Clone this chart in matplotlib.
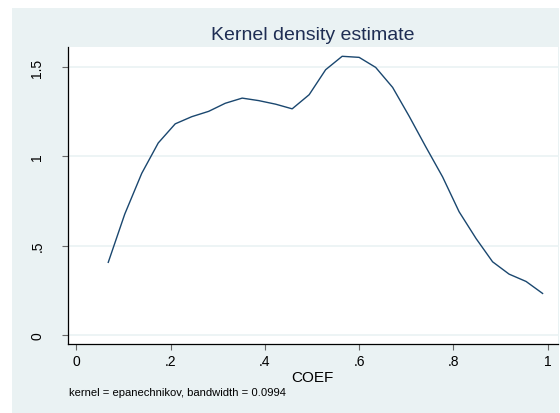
import matplotlib
matplotlib.use("Agg")
import matplotlib.pyplot as plt
from matplotlib.patches import Rectangle
import numpy as np

plt.rcParams['font.family'] = ['Liberation Sans', 'DejaVu Sans']

# kernel density evaluation points and estimates
coef = [0.068, 0.103, 0.139, 0.174, 0.210, 0.245, 0.281, 0.316, 0.352,
        0.387, 0.423, 0.458, 0.494, 0.529, 0.564, 0.600, 0.635, 0.671,
        0.706, 0.741, 0.777, 0.812, 0.848, 0.883, 0.918, 0.954, 0.989]
density = [0.407, 0.677, 0.905, 1.075, 1.182, 1.222, 1.252, 1.297, 1.326,
           1.312, 1.292, 1.266, 1.345, 1.485, 1.560, 1.554, 1.498, 1.386,
           1.225, 1.055, 0.885, 0.690, 0.540, 0.410, 0.341, 0.300, 0.233]

xticks = [0, 0.2, 0.4, 0.6, 0.8, 1.0]
xticklabels = ['0', '.2', '.4', '.6', '.8', '1']
yticks = [0, 0.5, 1.0, 1.5]
yticklabels = ['0', '.5', '1', '1.5']

W, H = 560, 414
fig = plt.figure(figsize=(W / 100, H / 100), dpi=100)
fig.patch.set_facecolor('white')

# graph region background
bg = '#eaf2f3'
fig.patches.append(Rectangle((12 / W, 0), (559 - 12) / W, 1 - 9 / H,
                             transform=fig.transFigure, facecolor=bg,
                             edgecolor='none', zorder=-10))

ax = fig.add_axes([67.7 / W, (H - 345) / H, (558 - 67.7) / W, (345 - 48) / H])
ax.set_zorder(1)
ax.set_facecolor('white')

ax.plot(coef, density, color='#1a476f', lw=1.0)

ax.set_xlim(-0.018, 1.0217)
ax.set_ylim(-0.05, 1.612)

ax.set_xticks(xticks)
ax.set_xticklabels(xticklabels, fontsize=10)
ax.set_yticks(yticks)
ax.set_yticklabels(yticklabels, fontsize=10, rotation=90, va='center')

ax.grid(axis='y', color=bg, lw=1.2)
ax.set_axisbelow(True)

for side in ['top', 'right']:
    ax.spines[side].set_visible(False)
for side in ['left', 'bottom']:
    ax.spines[side].set_color('black')
    ax.spines[side].set_linewidth(0.9)

ax.tick_params(axis='both', direction='out', length=4.3, width=0.8,
               color='#666666', labelcolor='black')
ax.tick_params(axis='y', pad=12.5)
ax.tick_params(axis='x', pad=3)

ax.set_xlabel('COEF', fontsize=11, labelpad=1)

fig.text(312.8 / W, 1 - 35 / H, 'Kernel density estimate', fontsize=14,
         color='#1e2d53', ha='center', va='center')
fig.text(69 / W, 1 - 393 / H, 'kernel = epanechnikov, bandwidth = 0.0994',
         fontsize=8.1, ha='left', va='center', color='black')

fig.savefig('out.png', dpi=100, facecolor=fig.get_facecolor())
